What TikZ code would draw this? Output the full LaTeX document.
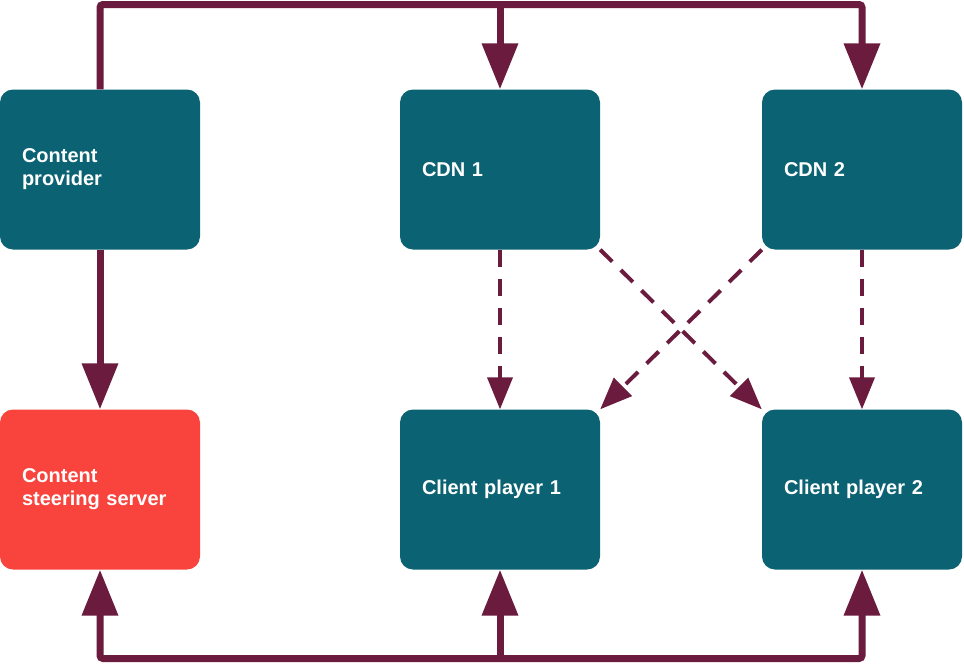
\documentclass[tikz,border=0pt]{standalone}
\usepackage{fontspec}
\setmainfont{Liberation Sans}
\usetikzlibrary{arrows.meta}
\definecolor{teal}{HTML}{0A6272}
\definecolor{redbox}{HTML}{F9433D}
\definecolor{maroon}{HTML}{6B1C3E}
\tikzset{
  box/.style={rectangle, rounded corners=13pt, fill=teal, text=white,
    minimum width=200pt, minimum height=160pt, text width=156pt,
    inner xsep=22pt, inner ysep=0pt, align=left,
    font=\fontsize{20}{23}\selectfont\bfseries},
  redbx/.style={box, fill=redbox},
  solidline/.style={draw=maroon, line width=7pt, rounded corners=3pt},
  solidtip/.style={-{Triangle[width=35pt,length=46pt]}},
  dashline/.style={draw=maroon, line width=4pt, dash pattern=on 17pt off 12pt,
    -{Triangle[width=25pt,length=32pt]}},
}
\begin{document}
\begin{tikzpicture}[x=1pt,y=-1pt]
\useasboundingbox (0,0) rectangle (964,664);
\node[box] (cp) at (100,169.5) {Content\\provider};
\node[box] (cdn1) at (500,169.5) {CDN 1};
\node[box] (cdn2) at (862,169.5) {CDN 2};
\node[redbx] (css) at (100,489.5) {Content\\steering server};
\node[box] (cl1) at (500,489.5) {Client player 1};
\node[box] (cl2) at (862,489.5) {Client player 2};
\coordinate (tr) at (862,4.5);
\coordinate (bl) at (100,658.5);
% top distribution line
\draw[solidline, solidtip] (cp.north) |- (tr) -- (cdn2.north);
\draw[solidline, solidtip] (cdn1.north |- tr) -- (cdn1.north);
% content provider to steering server
\draw[solidline, solidtip] (cp.south) -- (css.north);
% bottom line
\draw[solidline, {Triangle[width=35pt,length=46pt]}-{Triangle[width=35pt,length=46pt]}] (cl2.south) |- (bl) -- (css.south);
\draw[solidline, solidtip] (cl1.south |- bl) -- (cl1.south);
% dashed
\draw[dashline] (cdn1.south) -- (cl1.north);
\draw[dashline] (cdn2.south) -- (cl2.north);
\draw[dashline] (cdn1.south east) -- (cl2.north west);
\draw[dashline] (cdn2.south west) -- (cl1.north east);
\end{tikzpicture}
\end{document}
